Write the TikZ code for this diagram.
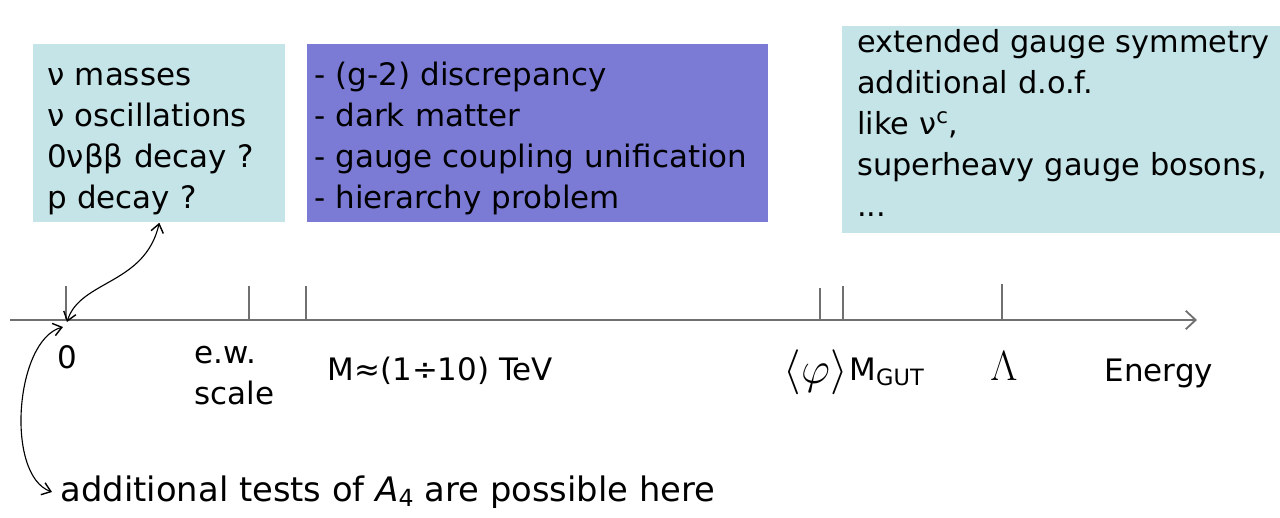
\RequirePackage{fix-cm}
\documentclass[tikz,border=0pt]{standalone}
\usepackage{amsmath}
\usepackage{fontspec}
\setmainfont{DejaVu Sans}
\usepackage{tikz}
\usetikzlibrary{arrows.meta, positioning}

\definecolor{lightcyan}{HTML}{C5E4E8}
\definecolor{violetbox}{HTML}{7B7BD6}
\definecolor{axisgray}{HTML}{707070}

% struts fixing first baseline and last depth inside the boxes
\newcommand{\boxtopstrut}[1]{\rule{0pt}{#1}}
\newcommand{\boxbotstrut}[1]{\rule[-#1]{0pt}{#1}}

\begin{document}
\begin{tikzpicture}[
        x=0.025cm, y=-0.025cm,
        >={Straight Barb[length=6pt,width=9pt,line width=1pt]},
        font=\fontsize{22}{29.2}\selectfont,
        infobox/.style={
            rectangle,
            anchor=north west,
            align=left,
            inner ysep=0pt
        },
        axisline/.style={
            draw=axisgray,
            line width=1.3pt
        },
        tick/.style={
            draw=axisgray,
            line width=1pt
        },
        bend arrow/.style={
            <->,
            line width=0.8pt
        },
        label text/.style={
            inner sep=1pt
        }
    ]

    \useasboundingbox (0,0) rectangle (1280,518);

    % Boxes
    \node[infobox, fill=lightcyan, inner xsep=0.35cm, text width=5.6cm,
          minimum height=4.45cm] (lbox) at (33,44)
        {\boxtopstrut{29.16pt}ν masses\\ν oscillations\\0νββ decay ?\\p decay ?\boxbotstrut{9.96pt}};
    \node[infobox, fill=violetbox, inner xsep=0.18cm, text width=11.165cm,
          minimum height=4.45cm, anchor=west, right=0.525cm of lbox] (mbox)
        {\boxtopstrut{29.16pt}- (g-2) discrepancy\\- dark matter\\- gauge coupling unification\\- hierarchy problem\boxbotstrut{9.96pt}};
    \node[infobox, fill=lightcyan, inner xsep=0.375cm, text width=11.5cm,
          minimum height=5.15cm, font=\fontsize{21.6}{29.2}\selectfont] (rbox) at (842,26)
        {\boxtopstrut{18.5pt}extended gauge symmetry\\additional d.o.f.\\like ν\textsuperscript{c},\\superheavy gauge bosons,\\...\boxbotstrut{11.4pt}};

    % Energy axis
    \coordinate (axstart) at (10,320);
    \coordinate (axend) at (1197,320);
    \draw[axisline, -{Straight Barb[length=7pt,width=13pt]}] (axstart) -- (axend);
    \foreach \tx/\ty in {66/286, 249/286, 306/286, 820/288, 843/286, 1002/284}
        \draw[tick] (\tx,\ty) -- (\tx,320);

    % Labels
    \coordinate (origin) at (67,322);
    \node[label text] (zero) at (67,357) {0};
    \node[label text, anchor=north west, align=left] (ew) at (193,344) {e.w.\\scale};
    \node[label text, anchor=west] (tev) at (326,371) {M≈(1÷10) TeV};
    \node[label text, anchor=west, font=\fontsize{32}{32}\selectfont] (vev) at (782,372)
        {$\langle\varphi\rangle$};
    \node[label text, anchor=west, right=0pt of vev, inner xsep=0pt] (mgut)
        {M\raisebox{-0.3ex}{\fontsize{16}{16}\selectfont GUT}};
    \node[label text, font=\fontsize{30}{30}\selectfont] (lam) at (1004,366) {$\Lambda$};
    \node[label text, anchor=west] (energy) at (1103,373) {Energy};
    \node[anchor=west, inner xsep=6pt, font=\fontsize{24}{29}\selectfont] (tests) at (52,492)
        {additional tests of \textit{A}\textsubscript{4} are possible here};

    % Arrows
    \draw[bend arrow] (origin) .. controls (80,280) and (145,285) .. (lbox.south);
    \draw[bend arrow] ([shift={(-4,5)}]origin) .. controls (15,340) and (5,475) .. (tests.west);

\end{tikzpicture}
\end{document}
